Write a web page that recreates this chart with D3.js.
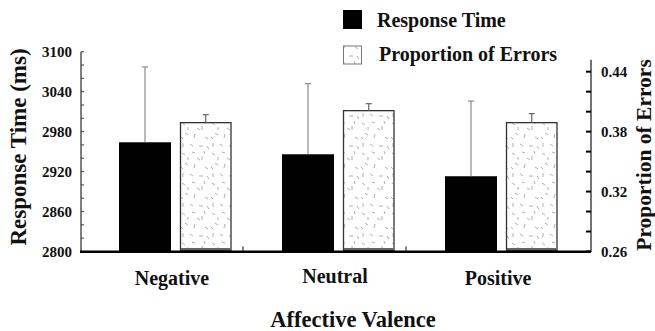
<!DOCTYPE html>
<html><head><meta charset="utf-8">
<script src="https://cdn.jsdelivr.net/npm/d3@7"></script>
<style>
html,body{margin:0;padding:0;background:#fff;}
svg text{font-family:"Liberation Serif","Times New Roman",serif;font-weight:bold;fill:#111;}
</style></head>
<body><svg id="c" width="655" height="331"></svg>
<script>
const categories = ["Negative", "Neutral", "Positive"];
const rtMeans = [2964, 2946, 2913];
const rtErr = [113, 106, 113];
const errMeans = [0.389, 0.401, 0.389];
const errErr = [0.008, 0.007, 0.009];
const leftTickLabels = [2800, 2860, 2920, 2980, 3040, 3100];
const leftMinorTicks = [2800,2820,2840,2860,2880,2900,2920,2940,2960,2980,3000,3020,3040,3060,3080,3100];
const rightTickLabels = [0.26, 0.32, 0.38, 0.44];
const rightMinorTicks = [0.26,0.28,0.30,0.32,0.34,0.36,0.38,0.40,0.42,0.44];

const svg = d3.select("#c");
const x = d3.scaleBand().domain(categories).range([80, 569]).padding(0);
const yL = d3.scaleLinear().domain([2800, 3100]).range([251.5, 51.7]);
const yR = d3.scaleLinear().domain([0.26, 0.44]).range([251.5, 71.7]);

// pattern
const defs = svg.append("defs");
const pat = defs.append("pattern").attr("id","spk").attr("patternUnits","userSpaceOnUse")
  .attr("width",30).attr("height",30);
pat.append("rect").attr("width",30).attr("height",30).attr("fill","#fff");
const dashes = [[2,3,5,5],[12,2,15,3],[22,6,22,10],[5,13,8,15],[15,14,14,18],[25,17,28,19],[3,23,3,27],[10,24,13,26],[19,26,23,26],[8,7,8,10],[24,1,25,4],[17,8,20,10],[1,17,3,19],[27,26,29,29]];
pat.selectAll("line").data(dashes).join("line")
  .attr("x1",d=>d[0]).attr("y1",d=>d[1]).attr("x2",d=>d[2]).attr("y2",d=>d[3])
  .attr("stroke","#9a9a9a").attr("stroke-width",0.8);

// black bars
svg.selectAll(".rt").data(categories).join("rect")
  .attr("x", d => x(d) + 39).attr("width", 52)
  .attr("y", (d,i) => yL(rtMeans[i])).attr("height", (d,i) => yL(2800) - yL(rtMeans[i]))
  .attr("fill", "#000");
// pattern bars
svg.selectAll(".pe").data(categories).join("rect")
  .attr("x", d => x(d) + 100.5).attr("width", 50.5)
  .attr("y", (d,i) => yR(errMeans[i])).attr("height", (d,i) => yR(0.26) - yR(errMeans[i]) - 1)
  .attr("fill", "url(#spk)").attr("stroke", "#333").attr("stroke-width", 1.3);
svg.selectAll(".pb").data(categories).join("line")
  .attr("x1", d => x(d) + 101).attr("x2", d => x(d) + 150.5)
  .attr("y1", 249).attr("y2", 249).attr("stroke","#666").attr("stroke-width",2);

// error bars
function errBar(cx, yTop, yBase, col) {
  svg.append("line").attr("x1",cx).attr("x2",cx).attr("y1",yBase).attr("y2",yTop).attr("stroke",col).attr("stroke-width",1.2);
  svg.append("line").attr("x1",cx-3).attr("x2",cx+3).attr("y1",yTop).attr("y2",yTop).attr("stroke",col).attr("stroke-width",1.2);
}
categories.forEach((c,i) => {
  errBar(x(c)+39+26, yL(rtMeans[i]+rtErr[i]), yL(rtMeans[i]), "#8c8c8c");
  errBar(x(c)+100.5+25.25, yR(errMeans[i]+errErr[i]), yR(errMeans[i]), "#666");
});

// left axis
svg.append("line").attr("x1",81).attr("x2",81).attr("y1",yL(3100)).attr("y2",252).attr("stroke","#555").attr("stroke-width",1.5);
svg.selectAll(".lt").data(leftMinorTicks).join("line")
  .attr("x1",81).attr("x2",84).attr("y1",d=>yL(d)).attr("y2",d=>yL(d)).attr("stroke","#555").attr("stroke-width",1.2);
svg.selectAll(".ll").data(leftTickLabels).join("text")
  .attr("x",72).attr("y",d=>yL(d)+5).attr("text-anchor","end").attr("font-size",15).text(d=>d);

// right axis
svg.append("line").attr("x1",591).attr("x2",591).attr("y1",yR(0.452)).attr("y2",252).attr("stroke","#444").attr("stroke-width",1.5);
svg.selectAll(".rt2").data(rightMinorTicks).join("line")
  .attr("x1",586).attr("x2",591).attr("y1",d=>yR(d)).attr("y2",d=>yR(d)).attr("stroke","#000").attr("stroke-width",2);
svg.selectAll(".rl").data(rightTickLabels).join("text")
  .attr("x",601).attr("y",d=>yR(d)+5).attr("text-anchor","start").attr("font-size",15).text(d=>d.toFixed(2));

// x axis
svg.append("line").attr("x1",80).attr("x2",591).attr("y1",251.8).attr("y2",251.8).attr("stroke","#000").attr("stroke-width",2.6);
svg.selectAll(".xt").data(categories.slice(1)).join("line")
  .attr("x1",d=>x(d)).attr("x2",d=>x(d)).attr("y1",246.5).attr("y2",251).attr("stroke","#333").attr("stroke-width",1.2);
svg.selectAll(".xl").data(categories).join("text")
  .attr("x",d=>x(d)+92).attr("y",(d,i)=> i===1 ? 283 : 285).attr("text-anchor","middle").attr("font-size",20).text(d=>d);

// axis titles
svg.append("text").attr("x",353).attr("y",327).attr("text-anchor","middle").attr("font-size",22.5).text("Affective Valence");
svg.append("text").attr("transform","translate(26,147) rotate(-90)").attr("text-anchor","middle").attr("font-size",23).text("Response Time (ms)");
svg.append("text").attr("transform","translate(651,155) rotate(-90)").attr("text-anchor","middle").attr("font-size",21.5).text("Proportion of Errors");

// legend
svg.append("rect").attr("x",343).attr("y",10).attr("width",19).attr("height",19).attr("fill","#000");
svg.append("text").attr("x",377).attr("y",27).attr("font-size",20).text("Response Time");
svg.append("rect").attr("x",343.5).attr("y",46).attr("width",18).attr("height",18).attr("fill","url(#spk)").attr("stroke","#777").attr("stroke-width",1);
svg.append("text").attr("x",379).attr("y",61).attr("font-size",20).text("Proportion of Errors");
</script></body></html>
